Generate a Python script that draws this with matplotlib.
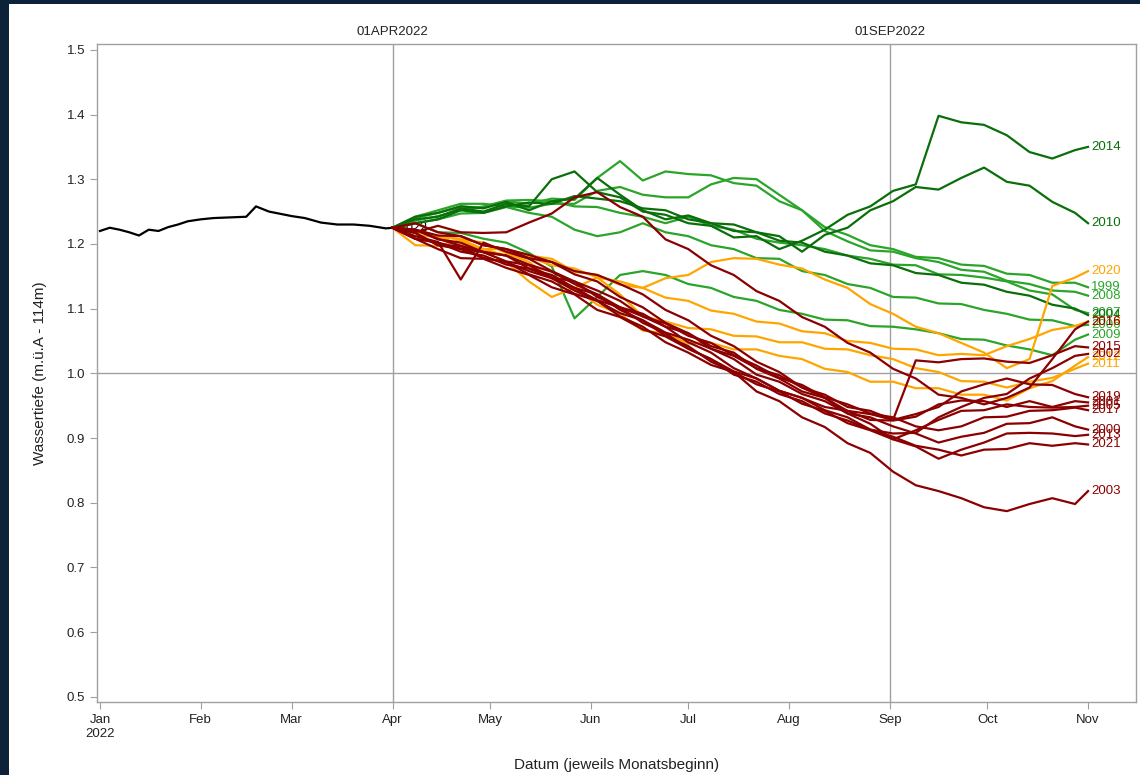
import numpy as np
import matplotlib
matplotlib.use("Agg")
import matplotlib.pyplot as plt
from matplotlib.patches import Rectangle

plt.rcParams['font.family'] = ['Liberation Sans', 'DejaVu Sans']

# observed level 2022 (Jan - Apr)
obs_dates = ['2022-01-01', '2022-01-04', '2022-01-07', '2022-01-10', '2022-01-13',
             '2022-01-16', '2022-01-19', '2022-01-22', '2022-01-25', '2022-01-28',
             '2022-02-01', '2022-02-05', '2022-02-10', '2022-02-15', '2022-02-18',
             '2022-02-22', '2022-03-01', '2022-03-05', '2022-03-10', '2022-03-15',
             '2022-03-20', '2022-03-25', '2022-03-30', '2022-04-01']
obs_level = [1.220, 1.225, 1.222, 1.218, 1.213, 1.222, 1.220, 1.226, 1.230, 1.235,
             1.238, 1.240, 1.241, 1.242, 1.258, 1.250, 1.243, 1.240, 1.233, 1.230,
             1.230, 1.228, 1.224, 1.225]

# scenario dates (weekly, Apr 1 - Nov 1)
scen_dates = ['2022-04-01', '2022-04-08', '2022-04-15', '2022-04-22', '2022-04-29',
              '2022-05-06', '2022-05-13', '2022-05-20', '2022-05-27', '2022-06-03',
              '2022-06-10', '2022-06-17', '2022-06-24', '2022-07-01', '2022-07-08',
              '2022-07-15', '2022-07-22', '2022-07-29', '2022-08-05', '2022-08-12',
              '2022-08-19', '2022-08-26', '2022-09-02', '2022-09-09', '2022-09-16',
              '2022-09-23', '2022-09-30', '2022-10-07', '2022-10-14', '2022-10-21',
              '2022-10-28', '2022-11-01']

# wet years (dark green)
y2014 = [1.225, 1.238, 1.242, 1.255, 1.250, 1.262, 1.258, 1.300,
         1.312, 1.280, 1.272, 1.250, 1.245, 1.232, 1.228, 1.210,
         1.212, 1.192, 1.205, 1.222, 1.245, 1.258, 1.282, 1.292,
         1.398, 1.388, 1.384, 1.368, 1.342, 1.332, 1.345, 1.350]
y2010 = [1.225, 1.242, 1.248, 1.258, 1.255, 1.265, 1.252, 1.266,
         1.270, 1.302, 1.276, 1.252, 1.238, 1.244, 1.232, 1.230,
         1.218, 1.212, 1.188, 1.214, 1.225, 1.252, 1.266, 1.288,
         1.284, 1.302, 1.318, 1.296, 1.290, 1.265, 1.248, 1.232]
y2004 = [1.225, 1.232, 1.238, 1.252, 1.248, 1.258, 1.264, 1.262,
         1.274, 1.270, 1.266, 1.255, 1.252, 1.238, 1.232, 1.220,
         1.218, 1.205, 1.202, 1.188, 1.182, 1.170, 1.167, 1.155,
         1.152, 1.140, 1.137, 1.126, 1.120, 1.106, 1.100, 1.090]

# green years
y1999 = [1.225, 1.240, 1.248, 1.258, 1.256, 1.266, 1.262, 1.270,
         1.268, 1.302, 1.328, 1.298, 1.312, 1.308, 1.306, 1.294,
         1.290, 1.266, 1.252, 1.226, 1.214, 1.198, 1.192, 1.180,
         1.178, 1.168, 1.166, 1.154, 1.152, 1.140, 1.140, 1.133]
y2008 = [1.225, 1.242, 1.252, 1.262, 1.262, 1.258, 1.256, 1.262,
         1.262, 1.282, 1.288, 1.276, 1.272, 1.272, 1.292, 1.302,
         1.300, 1.276, 1.252, 1.220, 1.204, 1.190, 1.188, 1.178,
         1.172, 1.160, 1.157, 1.143, 1.138, 1.128, 1.126, 1.120]
y2007 = [1.225, 1.236, 1.243, 1.252, 1.258, 1.267, 1.268, 1.266,
         1.258, 1.257, 1.248, 1.242, 1.232, 1.242, 1.228, 1.222,
         1.208, 1.202, 1.198, 1.192, 1.182, 1.177, 1.168, 1.167,
         1.153, 1.152, 1.148, 1.142, 1.128, 1.122, 1.098, 1.093]
y2006 = [1.225, 1.232, 1.238, 1.247, 1.248, 1.257, 1.248, 1.242,
         1.222, 1.212, 1.218, 1.232, 1.218, 1.212, 1.198, 1.192,
         1.178, 1.177, 1.158, 1.152, 1.138, 1.132, 1.118, 1.117,
         1.108, 1.107, 1.098, 1.092, 1.083, 1.082, 1.073, 1.075]
y2009 = [1.225, 1.232, 1.218, 1.217, 1.208, 1.202, 1.186, 1.165,
         1.085, 1.118, 1.152, 1.158, 1.152, 1.138, 1.132, 1.118,
         1.112, 1.098, 1.092, 1.083, 1.082, 1.073, 1.072, 1.068,
         1.062, 1.053, 1.052, 1.043, 1.037, 1.028, 1.052, 1.060]

# orange years
y2020 = [1.225, 1.212, 1.212, 1.198, 1.192, 1.182, 1.180, 1.167,
         1.162, 1.148, 1.142, 1.132, 1.147, 1.152, 1.172, 1.178,
         1.177, 1.168, 1.162, 1.145, 1.132, 1.107, 1.092, 1.072,
         1.062, 1.047, 1.032, 1.008, 1.022, 1.135, 1.148, 1.158]
y2018 = [1.225, 1.222, 1.212, 1.207, 1.192, 1.192, 1.182, 1.177,
         1.157, 1.152, 1.137, 1.132, 1.117, 1.112, 1.097, 1.092,
         1.080, 1.077, 1.065, 1.062, 1.050, 1.047, 1.038, 1.037,
         1.028, 1.030, 1.028, 1.042, 1.053, 1.067, 1.073, 1.080]
y2012 = [1.225, 1.218, 1.212, 1.207, 1.202, 1.186, 1.172, 1.146,
         1.132, 1.106, 1.092, 1.066, 1.062, 1.046, 1.047, 1.037,
         1.037, 1.027, 1.022, 1.007, 1.002, 0.987, 0.987, 0.977,
         0.977, 0.967, 0.967, 0.958, 0.977, 0.988, 1.012, 1.025]
y2011 = [1.225, 1.198, 1.197, 1.206, 1.188, 1.172, 1.142, 1.118,
         1.132, 1.148, 1.122, 1.088, 1.080, 1.070, 1.068, 1.058,
         1.057, 1.048, 1.048, 1.038, 1.037, 1.028, 1.022, 1.008,
         1.002, 0.988, 0.987, 0.978, 0.987, 0.993, 1.007, 1.015]

# dry years (dark red)
y2016 = [1.225, 1.218, 1.228, 1.218, 1.217, 1.218, 1.233, 1.247,
         1.272, 1.280, 1.257, 1.242, 1.207, 1.192, 1.167, 1.152,
         1.127, 1.112, 1.087, 1.072, 1.047, 1.032, 1.007, 0.992,
         0.967, 0.962, 0.952, 0.962, 0.978, 1.022, 1.068, 1.080]
y2015 = [1.225, 1.222, 1.207, 1.202, 1.187, 1.182, 1.162, 1.152,
         1.132, 1.122, 1.102, 1.092, 1.072, 1.062, 1.042, 1.032,
         1.007, 0.992, 0.972, 0.962, 0.942, 0.937, 0.928, 1.020,
         1.017, 1.022, 1.023, 1.018, 1.016, 1.028, 1.042, 1.040]
y2002 = [1.225, 1.212, 1.203, 1.145, 1.202, 1.188, 1.177, 1.158,
         1.142, 1.118, 1.102, 1.078, 1.062, 1.038, 1.022, 0.998,
         0.987, 0.968, 0.957, 0.938, 0.927, 0.913, 0.907, 0.908,
         0.932, 0.948, 0.962, 0.968, 0.992, 1.008, 1.027, 1.030]
y2019 = [1.225, 1.217, 1.198, 1.192, 1.178, 1.172, 1.153, 1.142,
         1.123, 1.112, 1.093, 1.082, 1.063, 1.052, 1.038, 1.027,
         1.008, 0.997, 0.978, 0.967, 0.948, 0.942, 0.928, 0.937,
         0.948, 0.972, 0.983, 0.992, 0.983, 0.982, 0.968, 0.963]
y2001 = [1.225, 1.208, 1.192, 1.178, 1.177, 1.163, 1.152, 1.133,
         1.122, 1.098, 1.087, 1.068, 1.057, 1.038, 1.022, 1.003,
         0.992, 0.973, 0.962, 0.948, 0.942, 0.928, 0.927, 0.933,
         0.952, 0.958, 0.957, 0.948, 0.957, 0.948, 0.957, 0.955]
y2005 = [1.225, 1.222, 1.208, 1.197, 1.178, 1.172, 1.158, 1.147,
         1.128, 1.112, 1.088, 1.072, 1.048, 1.032, 1.013, 1.002,
         0.983, 0.972, 0.953, 0.942, 0.923, 0.912, 0.898, 0.912,
         0.928, 0.942, 0.943, 0.952, 0.948, 0.947, 0.948, 0.950]
y2017 = [1.225, 1.208, 1.202, 1.193, 1.187, 1.173, 1.167, 1.148,
         1.132, 1.113, 1.102, 1.088, 1.077, 1.058, 1.047, 1.028,
         1.012, 0.993, 0.982, 0.963, 0.952, 0.938, 0.932, 0.918,
         0.912, 0.918, 0.932, 0.933, 0.942, 0.943, 0.947, 0.943]
y2000 = [1.225, 1.222, 1.213, 1.212, 1.198, 1.192, 1.183, 1.172,
         1.153, 1.142, 1.118, 1.102, 1.078, 1.062, 1.038, 1.022,
         0.998, 0.987, 0.968, 0.957, 0.938, 0.932, 0.918, 0.907,
         0.893, 0.902, 0.908, 0.922, 0.923, 0.932, 0.918, 0.913]
y2013 = [1.225, 1.232, 1.218, 1.212, 1.198, 1.192, 1.178, 1.172,
         1.158, 1.152, 1.138, 1.122, 1.098, 1.082, 1.058, 1.042,
         1.018, 1.002, 0.978, 0.962, 0.938, 0.922, 0.898, 0.887,
         0.868, 0.882, 0.893, 0.907, 0.908, 0.907, 0.903, 0.905]
y2021 = [1.225, 1.208, 1.202, 1.188, 1.182, 1.168, 1.162, 1.148,
         1.142, 1.128, 1.112, 1.088, 1.072, 1.048, 1.032, 1.008,
         0.992, 0.973, 0.962, 0.943, 0.932, 0.913, 0.902, 0.888,
         0.882, 0.873, 0.882, 0.883, 0.892, 0.888, 0.892, 0.890]
y2003 = [1.225, 1.217, 1.198, 1.197, 1.188, 1.182, 1.168, 1.157,
         1.138, 1.122, 1.098, 1.082, 1.058, 1.042, 1.018, 1.002,
         0.972, 0.957, 0.932, 0.917, 0.892, 0.877, 0.848, 0.827,
         0.818, 0.807, 0.793, 0.787, 0.798, 0.807, 0.798, 0.818]

DKGREEN = '#0a6e0a'
GREEN = '#2aa52a'
ORANGE = '#ffa500'
DKRED = '#8b0000'

series = [
    ('1999', y1999, GREEN), ('2008', y2008, GREEN), ('2007', y2007, GREEN),
    ('2006', y2006, GREEN), ('2009', y2009, GREEN),
    ('2014', y2014, DKGREEN), ('2010', y2010, DKGREEN), ('2004', y2004, DKGREEN),
    ('2020', y2020, ORANGE), ('2018', y2018, ORANGE), ('2012', y2012, ORANGE),
    ('2011', y2011, ORANGE),
    ('2016', y2016, DKRED), ('2015', y2015, DKRED), ('2002', y2002, DKRED),
    ('2019', y2019, DKRED), ('2001', y2001, DKRED), ('2005', y2005, DKRED),
    ('2017', y2017, DKRED), ('2000', y2000, DKRED), ('2013', y2013, DKRED),
    ('2021', y2021, DKRED), ('2003', y2003, DKRED),
]

fig = plt.figure(figsize=(11.4, 7.75), dpi=100)
fig.patch.set_facecolor('#0c2238')
# white panel inside the dark frame
fig.patches.append(Rectangle((9 / 1140, 0), 1, 1 - 4 / 775, transform=fig.transFigure,
                             facecolor='white', edgecolor='none', zorder=-10))

ax = fig.add_axes([97 / 1140, 1 - 702 / 775, (1136 - 97) / 1140, (702 - 44) / 775])
ax.set_zorder(1)
ax.set_facecolor('white')

sd = np.array(scen_dates, dtype='datetime64[D]')
od = np.array(obs_dates, dtype='datetime64[D]')

# reference lines
ref_col = '#a0a0a0'
ax.axhline(1.0, color=ref_col, lw=1, zorder=1)
for d in ['2022-04-01', '2022-09-01']:
    ax.axvline(np.datetime64(d), color=ref_col, lw=1, zorder=1)

ax.plot(od, obs_level, color='black', lw=1.6, zorder=2)
ax.text(np.datetime64('2022-04-03'), obs_level[-1], '2022', fontsize=9,
        color='black', va='center', ha='left', zorder=2)

for label, vals, col in series:
    ax.plot(sd, vals, color=col, lw=1.6, zorder=3)
    ax.text(np.datetime64('2022-11-02'), vals[-1], label, fontsize=9.5,
            color=col, va='center', ha='left', zorder=4)

ax.set_xlim(np.datetime64('2021-12-31T02:00'), np.datetime64('2022-11-15T18:00'))
ax.set_ylim(0.492, 1.509)
ax.set_yticks(np.arange(0.5, 1.51, 0.1))
ax.yaxis.set_major_formatter(plt.FormatStrFormatter('%.1f'))

month_ticks = np.array(['2022-%02d-01' % m for m in range(1, 12)], dtype='datetime64[D]')
month_names = ['Jan\n2022', 'Feb', 'Mar', 'Apr', 'May', 'Jun', 'Jul', 'Aug',
               'Sep', 'Oct', 'Nov']
ax.set_xticks(month_ticks)
ax.set_xticklabels(month_names)

for sp in ax.spines.values():
    sp.set_color('#a0a0a0')
    sp.set_linewidth(1)
ax.tick_params(axis='both', direction='out', length=5, color='#a0a0a0',
               labelcolor='#222222', labelsize=9.5)

# labels on top of reference lines
for d, t in [('2022-04-01', '01APR2022'), ('2022-09-01', '01SEP2022')]:
    ax.text(np.datetime64(d), 1.509 + 0.018, t, fontsize=9.5, ha='center', va='center',
            color='#222222', clip_on=False)

ax.set_ylabel('Wassertiefe (m.ü.A - 114m)', fontsize=11, color='#222222', labelpad=14)
ax.set_xlabel('Datum (jeweils Monatsbeginn)', fontsize=11, color='#222222', labelpad=13)

fig.savefig('out.png', dpi=100, facecolor=fig.get_facecolor())
